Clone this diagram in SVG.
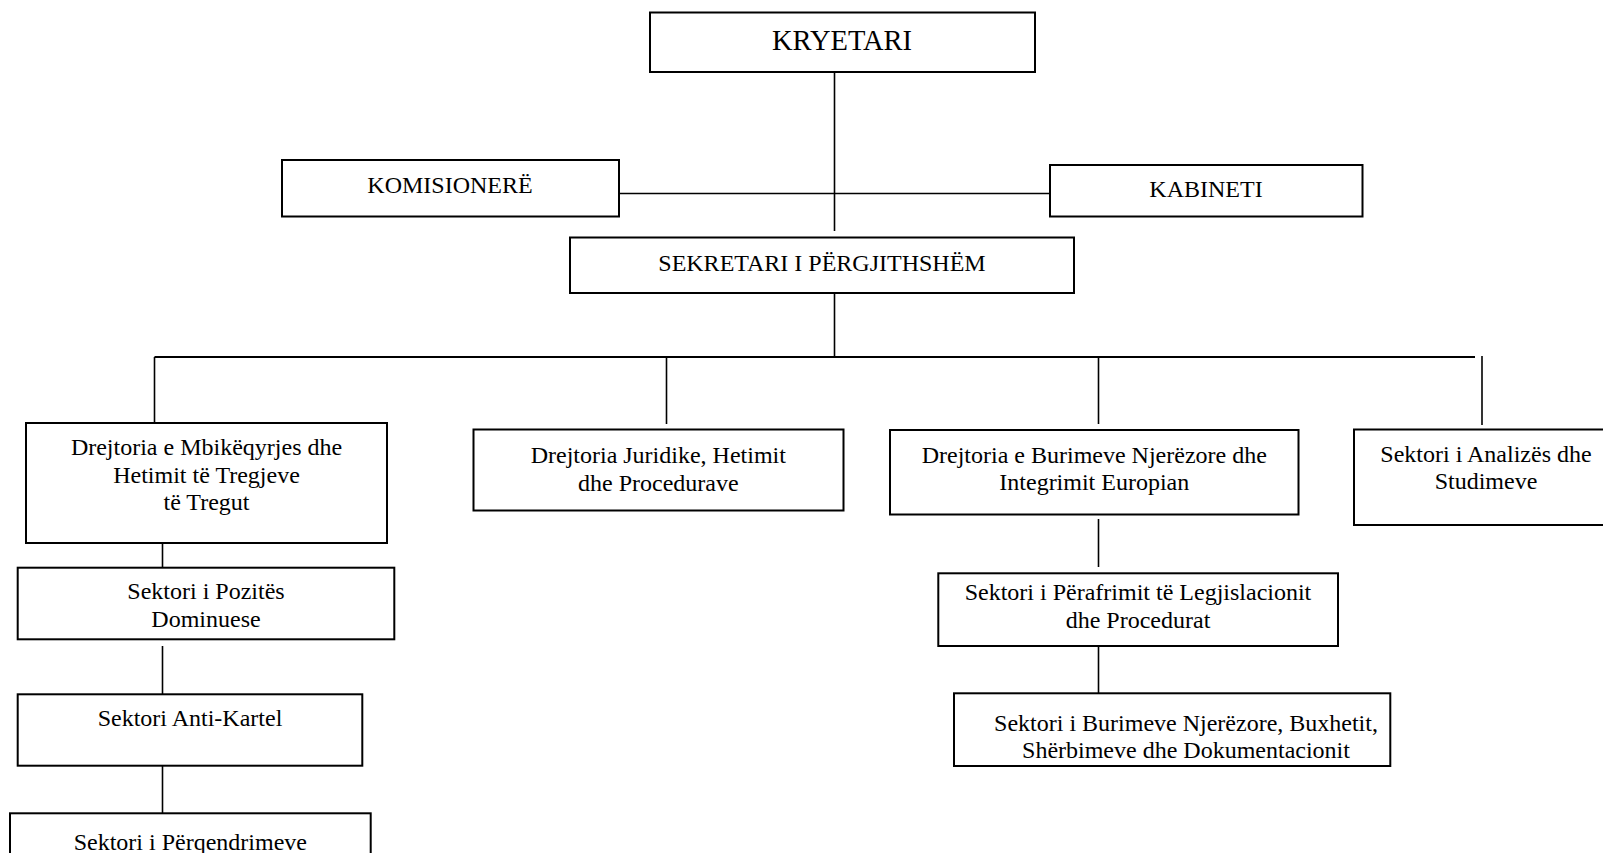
<svg xmlns="http://www.w3.org/2000/svg" width="1603" height="853" viewBox="0 0 1603 853">
<style>
.box{fill:#fff;stroke:#000;stroke-width:2}
.t{font-family:"Liberation Serif","Times New Roman",serif;font-size:24px;fill:#000;text-anchor:middle}
.c{stroke:#000;stroke-width:1.6;fill:none}
</style>
<rect width="1603" height="853" fill="#fff"/>
<g id="connectors">
<line class="c" x1="834.5" y1="69" x2="834.5" y2="231"/>
<line class="c" x1="619" y1="193.5" x2="1050" y2="193.5"/>
<line class="c" x1="834.5" y1="288" x2="834.5" y2="357"/>
<line class="c" x1="154.5" y1="357" x2="1475" y2="357" style="stroke-width:2"/>
<line class="c" x1="154.5" y1="357" x2="154.5" y2="423"/>
<line class="c" x1="666.5" y1="357" x2="666.5" y2="424"/>
<line class="c" x1="1098.5" y1="357" x2="1098.5" y2="424"/>
<line class="c" x1="1482" y1="356" x2="1482" y2="425"/>
<line class="c" x1="162.5" y1="543" x2="162.5" y2="567"/>
<line class="c" x1="162.5" y1="646" x2="162.5" y2="694"/>
<line class="c" x1="162.5" y1="766" x2="162.5" y2="813"/>
<line class="c" x1="1098.5" y1="519" x2="1098.5" y2="567"/>
<line class="c" x1="1098.5" y1="646" x2="1098.5" y2="693"/>
</g>
<g id="kryetari"><rect class="box" x="650" y="12.5" width="385" height="59.5"/><text class="t" x="842" y="50" style="font-size:28.5px">KRYETARI</text></g>
<g id="komisionere"><rect class="box" x="282" y="160" width="337" height="56.5"/><text class="t" x="450" y="193">KOMISIONERË</text></g>
<g id="kabineti"><rect class="box" x="1050" y="165" width="312.5" height="51.5"/><text class="t" x="1206" y="197">KABINETI</text></g>
<g id="sekretari"><rect class="box" x="570" y="237.5" width="504" height="55.5"/><text class="t" x="822" y="271">SEKRETARI I PËRGJITHSHËM</text></g>
<g id="drejtoria-mbikeqyrjes"><rect class="box" x="26" y="423" width="361" height="120"/><text class="t" x="206.5" y="455">Drejtoria e Mbikëqyrjes dhe</text><text class="t" x="206.5" y="482.6">Hetimit të Tregjeve</text><text class="t" x="206.5" y="510.2">të Tregut</text></g>
<g id="drejtoria-juridike"><rect class="box" x="473.5" y="429.5" width="370" height="81"/><text class="t" x="658.3" y="463.3">Drejtoria Juridike, Hetimit</text><text class="t" x="658.3" y="490.9">dhe Procedurave</text></g>
<g id="drejtoria-burimeve"><rect class="box" x="890" y="430" width="408.5" height="84.5"/><text class="t" x="1094.3" y="462.7">Drejtoria e Burimeve Njerëzore dhe</text><text class="t" x="1094.3" y="490.3">Integrimit Europian</text></g>
<g id="sektori-analizes"><rect class="box" x="1354" y="429.5" width="264" height="95.5"/><text class="t" x="1486" y="461.7">Sektori i Analizës dhe</text><text class="t" x="1486" y="489.3">Studimeve</text></g>
<g id="sektori-pozites"><rect class="box" x="17.7" y="567.7" width="376.6" height="71.6"/><text class="t" x="206" y="599.3">Sektori i Pozitës</text><text class="t" x="206" y="626.9">Dominuese</text></g>
<g id="sektori-anti-kartel"><rect class="box" x="17.7" y="694.3" width="344.6" height="71.4"/><text class="t" x="190" y="726">Sektori Anti-Kartel</text></g>
<g id="sektori-perqendrimeve"><rect class="box" x="10" y="813.3" width="360.7" height="60"/><text class="t" x="190.3" y="850">Sektori i Përqendrimeve</text></g>
<g id="sektori-perafrimit"><rect class="box" x="938.3" y="573.3" width="399.7" height="72.7"/><text class="t" x="1138" y="600">Sektori i Përafrimit të Legjislacionit</text><text class="t" x="1138" y="627.6">dhe Procedurat</text></g>
<g id="sektori-burimeve"><rect class="box" x="954" y="693.3" width="436.3" height="72.7"/><text class="t" x="1186" y="731">Sektori i Burimeve Njerëzore, Buxhetit,</text><text class="t" x="1186" y="758.4">Shërbimeve dhe Dokumentacionit</text></g>
</svg>
